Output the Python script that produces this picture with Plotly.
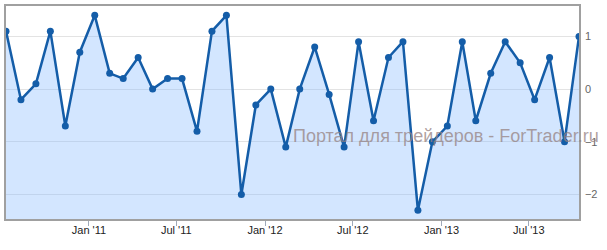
import pandas as pd
import plotly.graph_objects as go

# Monthly observations (dated mid-month), Jul 2010 – Oct 2013
start_month = "2010-07-01"
n_points = 40
dates = pd.date_range(start_month, periods=n_points, freq="MS") + pd.Timedelta(days=12)

values = [
    1.1, -0.2, 0.1, 1.1, -0.7, 0.7, 1.4, 0.3, 0.2, 0.6,
    0.0, 0.2, 0.2, -0.8, 1.1, 1.4, -2.0, -0.3, 0.0, -1.1,
    0.0, 0.8, -0.1, -1.1, 0.9, -0.6, 0.6, 0.9, -2.3, -1.0,
    -0.7, 0.9, -0.6, 0.3, 0.9, 0.5, -0.2, 0.6, -1.0, 1.0,
]

y_ticks = [-2, -1, 0, 1]
x_ticks = ["2011-01-01", "2011-07-01", "2012-01-01", "2012-07-01", "2013-01-01", "2013-07-01"]
watermark = "Портал для трейдеров - ForTrader.ru"

y_min, y_max = -2.464, 1.577
line_color = "#145da8"

fig = go.Figure()
# baseline at the bottom of the plot so the area fills down to the axis
fig.add_trace(go.Scatter(
    x=dates, y=[y_min] * len(dates), mode="lines",
    line=dict(width=0, color="rgba(0,0,0,0)"), hoverinfo="skip", showlegend=False,
))
fig.add_trace(go.Scatter(
    x=dates, y=values, mode="lines+markers",
    fill="tonexty", fillcolor="rgba(140,190,255,0.38)",
    line=dict(color=line_color, width=2.5),
    marker=dict(color=line_color, size=7),
    showlegend=False,
))

fig.update_layout(
    width=607, height=250,
    margin=dict(l=5, r=28, t=4, b=31),
    paper_bgcolor="white", plot_bgcolor="white",
    font=dict(family="Liberation Sans, Arial, sans-serif", size=11, color="#333"),
    xaxis=dict(
        range=[dates[0], dates[-1]],
        tickvals=x_ticks, tickformat="%b '%y",
        ticks="outside", ticklen=5, tickcolor="#a0aab9", tickwidth=1,
        ticklabelstandoff=-5,
        showgrid=False, showline=True, linecolor="#a0a0a0", linewidth=1.5, mirror=True,
        tickfont=dict(color="#222", size=11),
    ),
    yaxis=dict(
        range=[y_min, y_max], side="right",
        tickvals=y_ticks,
        showgrid=True, gridcolor="#e3e3e3", gridwidth=1,
        zeroline=False,
        showline=True, linecolor="#a0a0a0", linewidth=1.5, mirror=True,
        ticks="", ticklabelstandoff=2,
        tickfont=dict(color="#666", size=11),
    ),
    annotations=[dict(
        text=watermark, xref="paper", yref="paper",
        x=(601 - 5) / 574, y=(219 - 135) / 215,
        xanchor="right", yanchor="middle", showarrow=False,
        font=dict(family="Liberation Sans, Arial, sans-serif", size=18, color="rgba(150,130,130,0.75)"),
    )],
)

fig.write_html("out.html")
